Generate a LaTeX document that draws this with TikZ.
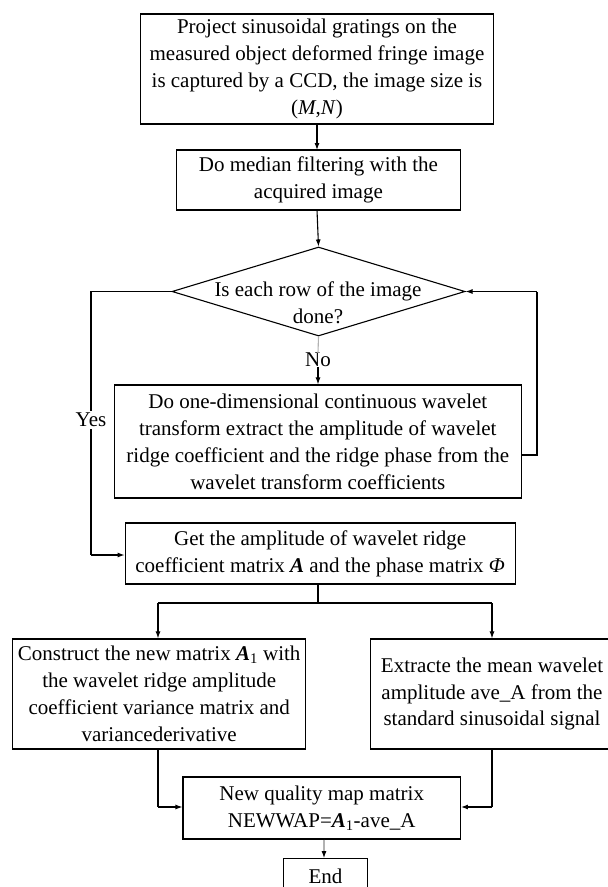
\documentclass[tikz,border=0pt]{standalone}
\usepackage{fontspec}
\setmainfont{Liberation Serif}
\usetikzlibrary{arrows.meta,shapes.geometric}
\begin{document}
\begin{tikzpicture}[x=1pt,y=-1pt,
  txt/.style={align=center,inner sep=0pt,font=\fontsize{21}{26.9}\selectfont},
  box/.style={draw,line width=1.2pt,inner sep=0pt,align=center,font=\fontsize{21}{26.9}\selectfont},
  arr/.style={line width=1.1pt,-{Latex[length=7pt,width=5pt,color=black]}},
  ln/.style={line width=1.1pt}]
\clip (0,0) rectangle (608,887);
\fill[white] (0,0) rectangle (608,887);
% boxes
\node[box,minimum width=353,minimum height=110] (b1) at (317,69)
  {Project sinusoidal gratings on the\\measured object deformed fringe image\\is captured by a CCD, the image size is\\(\textit{M},\textit{N})};
\node[box,minimum width=284,minimum height=60] (b2) at (318.4,180)
  {Do median filtering with the\\acquired image};
\node[diamond,draw,line width=1.1pt,minimum width=293,minimum height=89,inner sep=0pt] (d) at (318.5,291.5) {};
\node[txt] (dt) at (318,303) {Is each row of the image\\done?};
\node[box,minimum width=407,minimum height=113] (b3) at (317.8,441.5)
  {Do one-dimensional continuous wavelet\\transform extract the amplitude of wavelet\\ridge coefficient and the ridge phase from the\\wavelet transform coefficients};
\node[box,minimum width=390,minimum height=61] (b4) at (320.2,553.5)
  {Get the amplitude of wavelet ridge\\coefficient matrix \textbf{\textit{A}} and the phase matrix \textit{Φ}};
\node[box,minimum width=293,minimum height=110] (b5) at (159.2,694)
  {Construct the new matrix \textbf{\textit{A}}\textsubscript{1} with\\the wavelet ridge amplitude\\coefficient variance matrix and\\variancederivative};
\node[box,minimum width=243.4,minimum height=110] (b6) at (492,694)
  {Extracte the mean wavelet\\amplitude ave\_A from the\\standard sinusoidal signal};
\node[box,minimum width=277.3,minimum height=62] (b7) at (321.7,808)
  {New quality map matrix\\NEWWAP=\textbf{\textit{A}}\textsubscript{1}-ave\_A};
\node[box,minimum width=84.3,minimum height=36] (e) at (325.5,876.7) {End};
% coordinates
\coordinate (yl) at (91,291.5);
\coordinate (yb) at (91,555);
\coordinate (rl) at (537,455);
\coordinate (sp) at (318,603);
\coordinate (sl) at (158,603);
\coordinate (sr) at (492,603);
\coordinate (ml) at (158,807);
\coordinate (mr) at (492,807);
% connectors
\draw[arr] (b1.south -| 317,0) -- (317,150);
\draw[arr] (317,210) -- (d.north);
\node[txt,fill=white] (no) at (318,360) {No};
\draw[ln,gray!60] (d.south) -- (no.north);
\draw[arr] (no.south) -- (b3.north -| no.south);
\draw[ln] (d.west) -- (yl) -- (yb);
\draw[arr] (yb) -- (yb -| b4.west);
\node[txt,fill=white,inner ysep=2pt] (yes) at (91,420) {Yes};
\draw[ln] (b3.east |- rl) -- (rl) -- (rl |- d.east);
\draw[arr] (rl |- d.east) -- (d.east);
\draw[ln] (b4.south -| sp) -- (sp);
\draw[ln] (sl) -- (sr);
\draw[arr] (sl) -- (sl |- b5.north);
\draw[arr] (sr) -- (sr |- b6.north);
\draw[ln] (b5.south -| ml) -- (ml);
\draw[arr] (ml) -- (ml -| b7.west);
\draw[ln] (b6.south -| mr) -- (mr);
\draw[arr] (mr) -- (mr -| b7.east);
\draw[arr,gray!60] (b7.south -| 324,0) -- (e.north -| 324,0);
\end{tikzpicture}
\end{document}
